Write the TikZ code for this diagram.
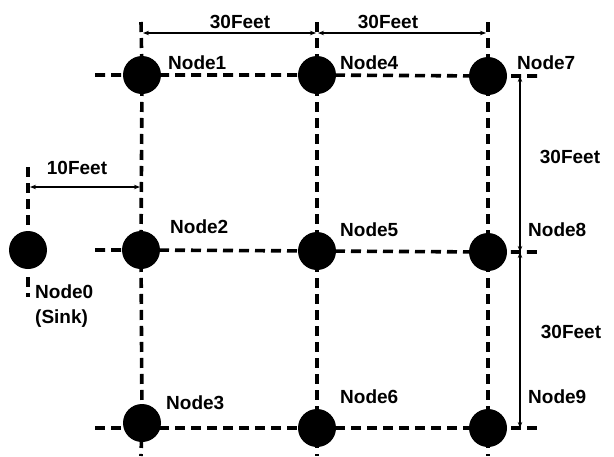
\documentclass[tikz,border=0pt]{standalone}
\usepackage{fontspec}
\setmainfont{Liberation Sans}
\usetikzlibrary{arrows.meta,backgrounds}
\begin{document}
\begin{tikzpicture}[x=1pt,y=-1pt,
  gridline/.style={line width=3.6pt, dash pattern=on 10pt off 6pt},
  sensor/.style={circle, fill=black, minimum size=38pt, inner sep=0pt},
  dim/.style={line width=1.1pt, {Stealth[length=6pt,width=4.5pt]}-{Stealth[length=6pt,width=4.5pt]}},
  txt/.style={font=\fontsize{19}{21}\selectfont\bfseries, inner sep=0pt,
              text height=13.6pt, text depth=0pt},
  lbl/.style={txt, anchor=west}]
\useasboundingbox (0,0) rectangle (614,456);

% sensor nodes
\node[sensor] (n0) at (28,250) {};
\node[sensor] (n1) at (142,75) {};
\node[sensor] (n2) at (141,250) {};
\node[sensor] (n3) at (142,423) {};
\node[sensor] (n4) at (317,75) {};
\node[sensor] (n5) at (317,251) {};
\node[sensor] (n6) at (317,428) {};
\node[sensor] (n7) at (488,76) {};
\node[sensor] (n8) at (488,252) {};
\node[sensor] (n9) at (488,428) {};

% node names
\node[lbl] (l1) at (168,63) {Node1};
\node[lbl] (l4) at (340,63) {Node4};
\node[lbl] (l7) at (517,63) {Node7};
\node[lbl] (l2) at (170,227) {Node2};
\node[lbl] (l5) at (340,230) {Node5};
\node[lbl] (l8) at (528,230) {Node8};
\node[lbl] (l3) at (166,403) {Node3};
\node[lbl] (l6) at (340,397) {Node6};
\node[lbl] (l9) at (528,397) {Node9};
\node[lbl] (l0) at (35,292) {Node0};
\node[lbl] (ls) at (35,317) {(Sink)};

% grid end points
\coordinate (r1w) at (95,75);  \coordinate (r1e) at (537,76);
\coordinate (r2w) at (95,250); \coordinate (r2e) at (537,252);
\coordinate (r3w) at (95,428); \coordinate (r3e) at (537,428);
\coordinate (c1t) at (141,22); \coordinate (c1b) at (141,456);
\coordinate (c2t) at (317,22); \coordinate (c2b) at (317,456);
\coordinate (c3t) at (488,22); \coordinate (c3b) at (488,456);
\coordinate (s0t) at (28,167); \coordinate (s0b) at (28,297);

\begin{scope}[on background layer]
  \draw[gridline] (r1w) -- (n1.center) -- (n4.center) -- (n7.center) -- (r1e);
  \draw[gridline] (r2w) -- (n2.center) -- (n5.center) -- (n8.center) -- (r2e);
  \draw[gridline] (r3w) -- (n6.center) -- (n9.center) -- (r3e);
  \draw[gridline] (c1t) -- (n1.center) -- (n2.center) -- (n3.center) -- (c1b);
  \draw[gridline] (c2t) -- (n4.center) -- (n5.center) -- (n6.center) -- (c2b);
  \draw[gridline] (c3t) -- (n7.center) -- (n8.center) -- (n9.center) -- (c3b);
  \draw[gridline] (s0t) -- (n0.north);
  \draw[gridline] (n0.south) ++(0,8) -- (s0b);
\end{scope}

% dimension lines
\coordinate (d1) at (141,33);
\coordinate (d2) at (317,33);
\coordinate (d3) at (488,33);
\draw[dim, shorten <=2pt, shorten >=1pt] (d1) -- (d2);
\draw[dim, shorten <=1pt, shorten >=2pt] (d2) -- (d3);
\coordinate (e0) at (28,187);
\coordinate (e1) at (141,187);
\draw[dim, shorten <=2pt, shorten >=1pt] (e0) -- (e1);
\coordinate (v1) at (520,76);
\coordinate (v2) at (520,252);
\coordinate (v3) at (520,428);
\draw[dim] (v1) -- (v2);
\draw[dim] (v2) -- (v3);

% dimension texts
\node[txt] (f1) at (240,22) {30Feet};
\node[txt] (f2) at (388,22) {30Feet};
\node[txt] (f3) at (77,168) {10Feet};
\node[txt] (f4) at (570,157) {30Feet};
\node[txt] (f5) at (571,332) {30Feet};
\end{tikzpicture}
\end{document}
